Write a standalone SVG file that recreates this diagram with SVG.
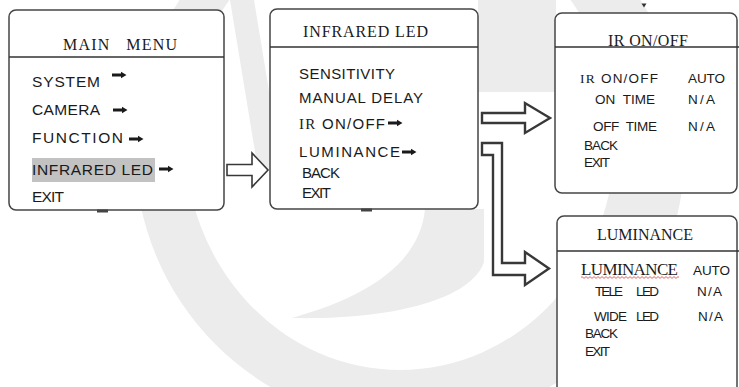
<svg xmlns="http://www.w3.org/2000/svg" width="739" height="387" viewBox="0 0 739 387">
<defs>
<style>
.box{fill:#fff;stroke:#454545;stroke-width:1.5}
.hl{stroke:#333;stroke-width:1.3}
.ti{font-family:"Liberation Serif","Times New Roman",serif;font-size:16px;fill:#1a1a1a}
.s1{font-family:"Liberation Sans",Arial,sans-serif;font-size:15.5px;fill:#1a1a1a}
.s2{font-family:"Liberation Sans",Arial,sans-serif;font-size:15px;fill:#1a1a1a}
.s3{font-family:"Liberation Sans",Arial,sans-serif;font-size:13.5px;fill:#1a1a1a}
.sf{font-family:"Liberation Serif","Times New Roman",serif}
.wm{fill:#ececec}
.blk{fill:#fff;stroke:#383838;stroke-linejoin:miter}
.sa{fill:#1a1a1a}
</style>
<path id="sa" d="M0,-1.5 H9 V-3.3 L14.5,0 L9,3.3 V1.5 H0 Z"/>
<pattern id="wavy" width="4" height="3" patternUnits="userSpaceOnUse">
<path d="M0,2.4 L2,0.6 L4,2.4" fill="none" stroke="#e23a3a" stroke-width="0.8"/>
</pattern>
</defs>
<rect x="0" y="0" width="739" height="387" fill="#fff"/>
<g id="watermark">
<rect class="wm" x="478" y="0" width="78" height="92"/>
<path class="wm" fill-rule="evenodd" d="M135,150 A275,275 0 1,0 685,150 A275,275 0 1,0 135,150 Z M185,140 A215,230 0 1,0 615,140 A215,230 0 1,0 185,140 Z"/>
<polygon class="wm" points="230,0 254,0 282,170 258,170"/>
<path class="wm" d="M425,209 C420,262 370,296 292,318 C385,320 470,302 484,262 L484,209 Z"/>
</g>
<g id="node-main">
<rect class="box" x="9" y="10" width="215" height="200" rx="7"/>
<line class="hl" x1="9" y1="57" x2="224" y2="57"/>
<rect x="97" y="209.5" width="11" height="3" fill="#444"/>
<text class="ti" x="63" y="50" textLength="114" xml:space="preserve">MAIN   MENU</text>
<text class="s1" x="32" y="87" textLength="68">SYSTEM</text>
<text class="s1" x="32" y="115" textLength="68">CAMERA</text>
<text class="s1" x="32" y="143" textLength="91">FUNCTION</text>
<rect x="32" y="158" width="123" height="24" fill="#c2c2c2"/>
<text class="s1" x="32" y="175" textLength="121">INFRARED LED</text>
<text class="s1" x="32" y="202" textLength="32">EXIT</text>
<use href="#sa" class="sa" transform="translate(112,75)"/>
<use href="#sa" class="sa" transform="translate(113,110)"/>
<use href="#sa" class="sa" transform="translate(129,139)"/>
<use href="#sa" class="sa" transform="translate(159,169)"/>
</g>
<g id="node-infrared">
<rect class="box" x="270" y="9" width="208" height="200" rx="7"/>
<line class="hl" x1="270" y1="47" x2="478" y2="47"/>
<rect x="361" y="208.5" width="11" height="3" fill="#444"/>
<text class="ti" x="303" y="37" textLength="125">INFRARED LED</text>
<text class="s2" x="299" y="79" textLength="96">SENSITIVITY</text>
<text class="s2" x="299" y="103" textLength="124">MANUAL DELAY</text>
<text class="s2" x="299" y="129" textLength="86"><tspan class="sf">IR</tspan> ON/OFF</text>
<text class="s2" x="299" y="157" textLength="101">LUMINANCE</text>
<text class="s2" x="302" y="178" textLength="38">BACK</text>
<text class="s2" x="302" y="198" textLength="29">EXIT</text>
<use href="#sa" class="sa" transform="translate(388,123)"/>
<use href="#sa" class="sa" transform="translate(402,152)"/>
</g>
<g id="node-ironoff">
<polygon points="641.5,3.5 646.5,3.5 644,7.5" fill="#333"/>
<rect class="box" x="555" y="13" width="182" height="180" rx="7"/>
<line class="hl" x1="555" y1="47" x2="739" y2="47"/>
<text class="ti" x="608" y="46" textLength="80">IR ON/OFF</text>
<text class="s3" x="580" y="83" textLength="78"><tspan class="sf">IR</tspan> ON/OFF</text>
<text class="s3" x="688" y="83" textLength="37">AUTO</text>
<text class="s3" x="595" y="104" textLength="60" xml:space="preserve">ON  TIME</text>
<text class="s3" x="688" y="104" textLength="27">N/A</text>
<text class="s3" x="593" y="131" textLength="64" xml:space="preserve">OFF  TIME</text>
<text class="s3" x="688" y="131" textLength="27">N/A</text>
<text class="s3" x="584" y="150" textLength="34">BACK</text>
<text class="s3" x="584" y="167" textLength="26">EXIT</text>
</g>
<g id="node-luminance">
<rect class="box" x="557" y="216" width="180" height="190" rx="7"/>
<line class="hl" x1="557" y1="251" x2="739" y2="251"/>
<text class="ti" x="597" y="240" textLength="96">LUMINANCE</text>
<text class="ti" x="581" y="275" textLength="97" style="font-size:17px">LUMINANCE</text>
<rect x="581" y="276" width="98" height="3" fill="url(#wavy)"/>
<text class="s3" x="693" y="275" textLength="37">AUTO</text>
<text class="s3" x="595" y="296" textLength="28">TELE</text>
<text class="s3" x="636" y="296" textLength="23">LED</text>
<text class="s3" x="697" y="296" textLength="25">N/A</text>
<text class="s3" x="594" y="321" textLength="33">WIDE</text>
<text class="s3" x="636" y="321" textLength="23">LED</text>
<text class="s3" x="698" y="321" textLength="25">N/A</text>
<text class="s3" x="585" y="338" textLength="33">BACK</text>
<text class="s3" x="585" y="356" textLength="25">EXIT</text>
</g>
<g id="connectors">
<polygon class="blk" stroke-width="1.6" points="227,164.5 252,164.5 252,153 268,170 252,187 252,175.5 227,175.5"/>
<polygon class="blk" stroke-width="2.4" points="482,113 525,113 525,103 550,118 525,133 525,123 482,123"/>
<polygon class="blk" stroke-width="2.4" points="482,143 502,143 502,263 525,263 525,252 549,268.5 525,285 525,275 493,275 493,155 482,155"/>
</g>
</svg>
